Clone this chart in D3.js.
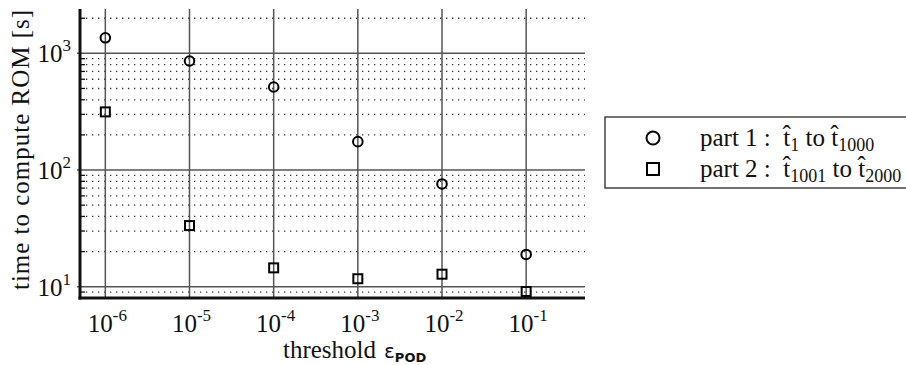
<!DOCTYPE html>
<html>
<head>
<meta charset="utf-8">
<script src="https://cdn.jsdelivr.net/npm/d3@7"></script>
<style>
  body { margin: 0; background: #fff; }
  svg { display: block; }
  text { font-family: "Liberation Serif", "DejaVu Serif", serif; fill: #111; }
</style>
</head>
<body>
<svg id="chart" width="906" height="365"></svg>
<script>
// data
const thresholds = [1e-6, 1e-5, 1e-4, 1e-3, 1e-2, 1e-1]
const thresholdExp = ["-6", "-5", "-4", "-3", "-2", "-1"]
const part1 = [1360, 860, 515, 175, 76, 18.9]
const part2 = [315, 33.4, 14.5, 11.7, 12.8, 9.1]
const yMajor = [10, 100, 1000]
const yMajorExp = ["1", "2", "3"]

const svg = d3.select("#chart")
const pw = { x: 80, y: 9, r: 585, b: 298 }

const x = d3.scaleLog().domain([5e-7, 0.5]).range([pw.x, pw.r])
const y = d3.scaleLog().domain([8, 2400]).range([pw.b, pw.y])

// minor grid (dotted)
const minor = y.ticks().filter(v => Math.abs(Math.log10(v) - Math.round(Math.log10(v))) > 1e-6 && y(v) < pw.b - 2)
svg.append("g").selectAll("line")
    .data(minor)
    .enter()
    .append("line")
    .attr("x1", pw.x).attr("x2", pw.r)
    .attr("y1", d => y(d)).attr("y2", d => y(d))
    .attr("stroke", "#333")
    .attr("stroke-width", 1.3)
    .attr("stroke-dasharray", "1.3,4.7")

// short inner ticks on left axis for minor values
svg.append("g").selectAll("line")
    .data(minor)
    .enter()
    .append("line")
    .attr("x1", pw.x).attr("x2", pw.x + 5)
    .attr("y1", d => y(d)).attr("y2", d => y(d))
    .attr("stroke", "#111")
    .attr("stroke-width", 1.3)

// major grid (solid)
svg.append("g").selectAll("line")
    .data(yMajor)
    .enter()
    .append("line")
    .attr("x1", pw.x - 3).attr("x2", pw.r)
    .attr("y1", d => y(d)).attr("y2", d => y(d))
    .attr("stroke", "#555")
    .attr("stroke-width", 1.5)

svg.append("g").selectAll("line")
    .data(thresholds)
    .enter()
    .append("line")
    .attr("x1", d => x(d)).attr("x2", d => x(d))
    .attr("y1", pw.y).attr("y2", pw.b)
    .attr("stroke", "#555")
    .attr("stroke-width", 1.5)

// axes
svg.append("line")
    .attr("x1", pw.x).attr("x2", pw.x)
    .attr("y1", pw.y).attr("y2", pw.b + 1.5)
    .attr("stroke", "#111").attr("stroke-width", 3)
svg.append("line")
    .attr("x1", pw.x - 1.5).attr("x2", pw.r)
    .attr("y1", pw.b).attr("y2", pw.b)
    .attr("stroke", "#111").attr("stroke-width", 3)

// y tick labels
const yl = svg.append("g").selectAll("text")
    .data(yMajor)
    .enter()
    .append("text")
    .attr("x", 71)
    .attr("y", d => y(d) + 9)
    .attr("text-anchor", "end")
    .style("font-size", "25px")
yl.append("tspan").text("10")
yl.append("tspan")
    .attr("dy", -11)
    .style("font-size", "17px")
    .text((d, i) => yMajorExp[i])

// x tick labels
const xl = svg.append("g").selectAll("text")
    .data(thresholds)
    .enter()
    .append("text")
    .attr("x", d => x(d) + 2)
    .attr("y", 332)
    .attr("text-anchor", "middle")
    .style("font-size", "25px")
xl.append("tspan").text("10")
xl.append("tspan")
    .attr("dy", -11)
    .style("font-size", "17px")
    .text((d, i) => thresholdExp[i])

// axis titles
const xt = svg.append("text")
    .attr("x", 283)
    .attr("y", 358)
    .style("font-size", "25px")
xt.append("tspan").text("threshold")
xt.append("tspan")
    .attr("dx", 8)
    .style("font-family", "'DejaVu Sans', sans-serif")
    .style("font-size", "20px")
    .text("ε")
xt.append("tspan")
    .attr("dy", 4)
    .style("font-family", "'DejaVu Sans', sans-serif")
    .style("font-size", "13px")
    .style("font-weight", "bold")
    .text("POD")

svg.append("text")
    .attr("transform", "translate(29,150) rotate(-90)")
    .attr("text-anchor", "middle")
    .style("font-size", "25px")
    .attr("textLength", 280)
    .text("time to compute ROM [s]")

// markers
svg.append("g").selectAll("circle")
    .data(thresholds)
    .enter()
    .append("circle")
    .attr("cx", d => x(d))
    .attr("cy", (d, i) => y(part1[i]))
    .attr("r", 4.8)
    .attr("fill", "none")
    .attr("stroke", "#000")
    .attr("stroke-width", 2)

const sq = 9
svg.append("g").selectAll("rect")
    .data(thresholds)
    .enter()
    .append("rect")
    .attr("x", d => x(d) - sq / 2)
    .attr("y", (d, i) => y(part2[i]) - sq / 2)
    .attr("width", sq).attr("height", sq)
    .attr("fill", "none")
    .attr("stroke", "#000")
    .attr("stroke-width", 2)

// legend
const lg = svg.append("g")
lg.append("rect")
    .attr("x", 605).attr("y", 117)
    .attr("width", 320).attr("height", 71)
    .attr("fill", "#fff")
    .attr("stroke", "#444")
    .attr("stroke-width", 1.5)
lg.append("circle")
    .attr("cx", 653).attr("cy", 138).attr("r", 6.5)
    .attr("fill", "none").attr("stroke", "#000").attr("stroke-width", 2)
lg.append("rect")
    .attr("x", 653 - 6).attr("y", 169 - 6)
    .attr("width", 12).attr("height", 12)
    .attr("fill", "none").attr("stroke", "#000").attr("stroke-width", 2)

const legendRows = [
    { y: 146, a: "part 1 :  ", s1: "1", s2: "1000" },
    { y: 177, a: "part 2 :  ", s1: "1001", s2: "2000" }
]
const lt = lg.selectAll("text.lab")
    .data(legendRows)
    .enter()
    .append("text")
    .attr("x", 700)
    .attr("y", d => d.y)
    .style("font-size", "25px")
    .style("white-space", "pre")
lt.append("tspan").text(d => d.a)
lt.append("tspan").text("t\u0302")
lt.append("tspan").attr("dy", 5).style("font-size", "18px").text(d => d.s1)
lt.append("tspan").attr("dy", -5).text(" to ")
lt.append("tspan").text("t\u0302")
lt.append("tspan").attr("dy", 5).style("font-size", "18px").text(d => d.s2)
</script>
</body>
</html>
